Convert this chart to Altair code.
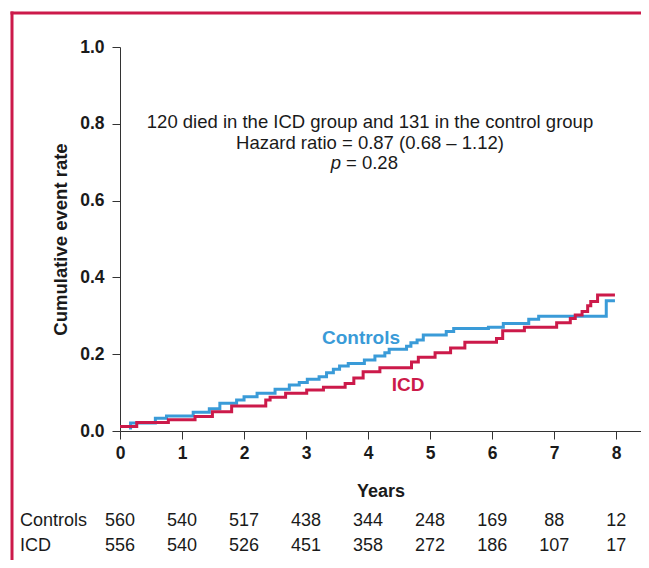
import altair as alt
import pandas as pd

# ---- data ----
groups = ["Controls", "ICD"]

ctrl_t = [0.17, 0.17, 0.57, 0.75, 1.18, 1.44, 1.61, 1.88, 2.00, 2.21, 2.50, 2.73, 2.89,
          3.02, 3.21, 3.33, 3.44, 3.54, 3.68, 3.94, 4.11, 4.27, 4.34, 4.62, 4.69, 4.79,
          4.89, 5.26, 5.38, 5.94, 6.18, 6.59, 6.75, 7.84, 7.98]
ctrl_r = [0.004, 0.021, 0.033, 0.039, 0.049, 0.058, 0.072, 0.081, 0.089, 0.098, 0.109,
          0.120, 0.126, 0.135, 0.141, 0.152, 0.161, 0.169, 0.176, 0.185, 0.195, 0.204,
          0.213, 0.221, 0.230, 0.237, 0.250, 0.259, 0.267, 0.270, 0.280, 0.291, 0.299,
          0.339, 0.339]

icd_t = [0.0, 0.27, 0.78, 1.21, 1.49, 1.80, 2.35, 2.42, 2.67, 3.01, 3.28, 3.63, 3.77,
         3.92, 4.19, 4.70, 4.81, 5.08, 5.33, 5.56, 6.07, 6.17, 6.52, 7.04, 7.26, 7.34,
         7.45, 7.54, 7.59, 7.70, 7.98]
icd_r = [0.012, 0.022, 0.029, 0.038, 0.050, 0.065, 0.081, 0.088, 0.098, 0.107, 0.114,
         0.124, 0.138, 0.154, 0.165, 0.180, 0.192, 0.204, 0.216, 0.231, 0.241, 0.261,
         0.270, 0.282, 0.293, 0.302, 0.311, 0.326, 0.337, 0.354, 0.354]

years = [0, 1, 2, 3, 4, 5, 6, 7, 8]
ctrl_risk = [560, 540, 517, 438, 344, 248, 169, 88, 12]
icd_risk = [556, 540, 526, 451, 358, 272, 186, 107, 17]
y_ticks = [0.0, 0.2, 0.4, 0.6, 0.8, 1.0]

note_lines = ["120 died in the ICD group and 131 in the control group",
              "Hazard ratio = 0.87 (0.68 \u2013 1.12)"]
p_label = "p"
p_value = "= 0.28"

BLUE = "#3a9bd8"
RED = "#cc1a4a"
FONT = "Liberation Sans"
DARK = "#1a1a1a"

curves = pd.concat([
    pd.DataFrame({"t": ctrl_t, "r": ctrl_r, "g": groups[0], "i": range(len(ctrl_t))}),
    pd.DataFrame({"t": icd_t, "r": icd_r, "g": groups[1], "i": range(len(icd_t))}),
])

x_scale = alt.Scale(domain=[0, 8.4], nice=False, zero=False)
x_axis = alt.Axis(values=years, format="d", title="Years", grid=False,
                  labelFont=FONT, labelFontSize=17.5, labelFontWeight="bold", labelColor=DARK,
                  titleFont=FONT, titleFontSize=18, titleFontWeight="bold", titleColor=DARK,
                  tickSize=8, labelPadding=5, titlePadding=21,
                  domainColor="#333333", tickColor="#333333", labelFlush=False)
y_axis = alt.Axis(values=y_ticks, format=".1f", title="Cumulative event rate", grid=False,
                  labelFont=FONT, labelFontSize=17.5, labelFontWeight="bold", labelColor=DARK,
                  titleFont=FONT, titleFontSize=18.5, titleFontWeight="bold", titleColor=DARK,
                  tickSize=8, labelPadding=8, titlePadding=9,
                  domainColor="#333333", tickColor="#333333")

X = alt.X("t:Q", scale=x_scale, axis=x_axis)

lines = alt.Chart(curves).mark_line(interpolate="step-after", strokeWidth=3).encode(
    x=X,
    y=alt.Y("r:Q", scale=alt.Scale(domain=[0, 1], nice=False), axis=y_axis),
    color=alt.Color("g:N", scale=alt.Scale(domain=groups, range=[BLUE, RED]), legend=None),
    order=alt.Order("i:Q"),
)

one = pd.DataFrame({"a": [0]})

lab_ctrl = alt.Chart(one).mark_text(font=FONT, fontSize=19, fontWeight="bold", color=BLUE).encode(
    x=alt.value(241), y=alt.value(291), text=alt.value(groups[0]))
lab_icd = alt.Chart(one).mark_text(font=FONT, fontSize=19, fontWeight="bold", color=RED).encode(
    x=alt.value(288), y=alt.value(338), text=alt.value(groups[1]))

note1 = alt.Chart(one).mark_text(font=FONT, fontSize=18.5, color=DARK).encode(
    x=alt.value(250), y=alt.value(75), text=alt.value(note_lines[0]))
note2 = alt.Chart(one).mark_text(font=FONT, fontSize=18.5, color=DARK).encode(
    x=alt.value(250), y=alt.value(96), text=alt.value(note_lines[1]))
note3a = alt.Chart(one).mark_text(font=FONT, fontSize=18.5, fontStyle="italic", color=DARK,
                                  align="right").encode(
    x=alt.value(221), y=alt.value(116), text=alt.value(p_label))
note3b = alt.Chart(one).mark_text(font=FONT, fontSize=18.5, color=DARK, align="left").encode(
    x=alt.value(226), y=alt.value(116), text=alt.value(p_value))

risk_ctrl = alt.Chart(pd.DataFrame({"t": years, "n": ctrl_risk})).mark_text(
    font=FONT, fontSize=18, color=DARK).encode(x=X, y=alt.value(474), text="n:Q")
risk_icd = alt.Chart(pd.DataFrame({"t": years, "n": icd_risk})).mark_text(
    font=FONT, fontSize=18, color=DARK).encode(x=X, y=alt.value(499), text="n:Q")
row_ctrl = alt.Chart(one).mark_text(font=FONT, fontSize=18, color=DARK, align="left").encode(
    x=alt.value(-100), y=alt.value(474), text=alt.value(groups[0]))
row_icd = alt.Chart(one).mark_text(font=FONT, fontSize=18, color=DARK, align="left").encode(
    x=alt.value(-100), y=alt.value(499), text=alt.value(groups[1]))

frame_top = alt.Chart(one).mark_rule(color=RED, strokeWidth=3).encode(
    x=alt.value(-109.5), x2=alt.value(540), y=alt.value(-34))
frame_left = alt.Chart(one).mark_rule(color=RED, strokeWidth=3).encode(
    x=alt.value(-108), y=alt.value(-35.5), y2=alt.value(530))

chart = alt.layer(
    lines, lab_ctrl, lab_icd, note1, note2, note3a, note3b,
    risk_ctrl, risk_icd, row_ctrl, row_icd, frame_top, frame_left,
).properties(
    width=521, height=384,
    autosize=alt.AutoSizeParams(type="none"),
    padding={"left": 112, "top": 39, "right": 0, "bottom": 129},
).configure_view(stroke=None)

chart.save("out.html", embed_options={"renderer": "svg", "actions": False})
